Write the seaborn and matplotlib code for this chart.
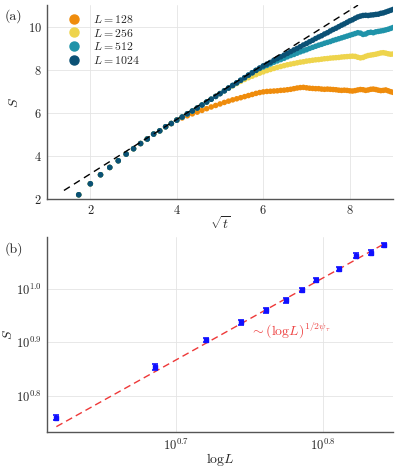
import numpy as np
import pandas as pd
import seaborn as sns
import matplotlib.pyplot as plt

# ---- panel (a): S vs sqrt(t) for several system sizes ----
t = np.arange(3, 82)

S_128 = [2.19, 2.70, 3.12, 3.46, 3.77, 4.08, 4.33, 4.57, 4.78, 5.01, 5.16, 5.35, 5.50, 5.66,
         5.76, 5.86, 5.95, 6.03, 6.11, 6.19, 6.27, 6.34, 6.41, 6.48, 6.54, 6.60, 6.65, 6.70,
         6.75, 6.80, 6.85, 6.90, 6.94, 6.97, 6.99, 7.00, 7.01, 7.02, 7.04, 7.05, 7.07, 7.09,
         7.12, 7.15, 7.17, 7.18, 7.16, 7.14, 7.13, 7.12, 7.12, 7.10, 7.09, 7.10, 7.09, 7.08,
         7.07, 7.05, 7.04, 7.05, 7.04, 7.02, 7.01, 7.03, 7.06, 7.08, 7.07, 7.04, 7.06, 7.09,
         7.10, 7.08, 7.05, 7.03, 7.04, 7.06, 7.02, 6.98, 6.95]
S_256 = [2.19, 2.70, 3.12, 3.46, 3.77, 4.08, 4.33, 4.57, 4.78, 5.01, 5.16, 5.35, 5.50, 5.66,
         5.80, 5.95, 6.08, 6.22, 6.36, 6.50, 6.63, 6.76, 6.89, 7.02, 7.14,
         7.25, 7.36, 7.46, 7.55, 7.63, 7.70, 7.77, 7.84, 7.90, 7.96, 8.01, 8.06, 8.11, 8.15,
         8.19, 8.23, 8.26, 8.29, 8.32, 8.35, 8.37, 8.40, 8.42, 8.44, 8.46, 8.47, 8.49, 8.51,
         8.52, 8.54, 8.55, 8.56, 8.57, 8.59, 8.60, 8.61, 8.62, 8.63, 8.62, 8.58, 8.55, 8.57,
         8.62, 8.66, 8.68, 8.70, 8.72, 8.75, 8.78, 8.79, 8.77, 8.74, 8.72, 8.73]
S_512 = [2.19, 2.70, 3.12, 3.46, 3.77, 4.08, 4.33, 4.57, 4.78, 5.01, 5.16, 5.35, 5.50, 5.66,
         5.80, 5.95, 6.08, 6.22, 6.36, 6.50, 6.63, 6.76, 6.89, 7.02, 7.15, 7.27, 7.39, 7.51,
         7.63, 7.75, 7.86,
         7.97, 8.06, 8.13, 8.20, 8.27, 8.35, 8.41, 8.47, 8.53, 8.60, 8.66, 8.71, 8.77, 8.83,
         8.88, 8.93, 8.99, 9.04, 9.09, 9.14, 9.18, 9.23, 9.27, 9.31, 9.36, 9.40, 9.44, 9.48,
         9.52, 9.56, 9.60, 9.64, 9.68, 9.72, 9.70, 9.64, 9.66, 9.72, 9.74, 9.72, 9.76, 9.78,
         9.80, 9.82, 9.85, 9.88, 9.92, 9.96]
S_1024 = [2.19, 2.70, 3.12, 3.46, 3.77, 4.08, 4.33, 4.57, 4.78, 5.01, 5.16, 5.35, 5.50, 5.66,
          5.80, 5.95, 6.08, 6.22, 6.36, 6.50, 6.63, 6.76, 6.89, 7.02, 7.15, 7.27, 7.39, 7.51,
          7.63, 7.75, 7.86, 7.97, 8.08, 8.18,
          8.26, 8.34, 8.44, 8.52, 8.60, 8.68, 8.76, 8.84, 8.92, 8.99, 9.07, 9.15, 9.22, 9.30,
          9.37, 9.45, 9.52, 9.58, 9.66, 9.72, 9.80, 9.87, 9.93, 10.00, 10.07, 10.13, 10.20,
          10.27, 10.32, 10.39, 10.45, 10.49, 10.52, 10.53, 10.52, 10.54, 10.55, 10.57, 10.58,
          10.62, 10.64, 10.68, 10.72, 10.76, 10.80]

sizes = [128, 256, 512, 1024]
colors = ["#ef8c0c", "#eed44c", "#1f93a9", "#0b5175"]

guide_x = [1.39, 8.19]
guide_y = [2.39, 11.0]

# ---- panel (b): S vs log L ----
L_b = [64, 128, 192, 256, 320, 384, 448, 512, 640, 768, 896, 1024]
S_b = [5.74, 7.14, 8.03, 8.66, 9.12, 9.52, 9.96, 10.40, 10.92, 11.55, 11.71, 12.09]
S_err = [0.07, 0.08, 0.08, 0.08, 0.09, 0.10, 0.09, 0.08, 0.10, 0.12, 0.12, 0.10]

fit_x = [4.16, 6.96]
fit_y = [5.52, 12.22]

sns.set_style("white")
plt.rcParams["mathtext.fontset"] = "cm"
plt.rcParams["font.family"] = ["cmr10", "DejaVu Serif"]
plt.rcParams["axes.unicode_minus"] = False

df = pd.concat([pd.DataFrame({"sqrt_t": np.sqrt(t), "S": s, "L": L})
                for L, s in zip(sizes, [S_128, S_256, S_512, S_1024])])

fig = plt.figure(figsize=(3.99, 4.69), dpi=100)
ax1 = fig.add_axes([0.118, 0.576, 0.867, 0.413])
ax2 = fig.add_axes([0.118, 0.079, 0.867, 0.416])

sns.scatterplot(data=df, x="sqrt_t", y="S", hue="L", palette=colors,
                s=16, linewidth=0, ax=ax1, legend=False, zorder=3)
sns.lineplot(x=guide_x, y=guide_y, color="black", linestyle=(0, (5, 3.5)),
             linewidth=1.0, ax=ax1, zorder=4)

for L, c in zip(sizes, colors):
    ax1.plot([], [], "o", color=c, markersize=6.5, label=f"$L = {L}$")
ax1.legend(loc="upper left", bbox_to_anchor=(0.03, 0.985), frameon=False,
           fontsize=8.5, handletextpad=0.6, labelspacing=0.15, borderaxespad=0)

ax1.set_xlim(1, 9)
ax1.set_ylim(2, 11)
ax1.set_xticks([2, 4, 6, 8], labels=["$2$", "$4$", "$6$", "$8$"])
ax1.set_yticks([2, 4, 6, 8, 10], labels=["$2$", "$4$", "$6$", "$8$", "$10$"])
ax1.set_xlabel(r"$\sqrt{t}$", fontsize=10)
ax1.set_ylabel("$S$", fontsize=10)
ax1.xaxis.set_label_coords(0.5, -0.085)
ax1.yaxis.set_label_coords(-0.075, 0.5)

# panel (b)
ax2.set_xscale("log")
ax2.set_yscale("log")
ax2.errorbar(np.log(L_b), S_b, yerr=S_err, fmt="s", color="#1010ff", markersize=2.5,
             capsize=2.2, elinewidth=1.4, capthick=1.2, zorder=3)
sns.lineplot(x=fit_x, y=fit_y, color="#ee3838", linestyle=(0, (5, 3)),
             linewidth=1.0, ax=ax2, zorder=2)
ax2.text(5.63, 8.21, r"$\sim(\mathrm{log}L)^{1/2\psi_\tau}$", color="#ee4444",
         fontsize=10, ha="left", va="baseline")

ax2.set_xlim(10 ** 0.6128, 10 ** 0.8472)
ax2.set_ylim(10 ** 0.732, 10 ** 1.098)
ax2.set_xticks([10 ** 0.7, 10 ** 0.8], labels=["$10^{0.7}$", "$10^{0.8}$"])
ax2.set_yticks([10 ** 0.8, 10 ** 0.9, 10 ** 1.0],
               labels=["$10^{0.8}$", "$10^{0.9}$", "$10^{1.0}$"])
ax2.minorticks_off()
ax2.set_xlabel(r"$\mathrm{log}L$", fontsize=10)
ax2.set_ylabel("$S$", fontsize=10)
ax2.xaxis.set_label_coords(0.5, -0.1)
ax2.yaxis.set_label_coords(-0.093, 0.5)

for ax in (ax1, ax2):
    ax.grid(True, color="#e4e4e4", linewidth=0.6)
    ax.set_axisbelow(True)
    sns.despine(ax=ax)
    for side in ("left", "bottom"):
        ax.spines[side].set_color("#555555")
        ax.spines[side].set_linewidth(1.0)
    ax.tick_params(direction="in", length=2.5, width=0.6, color="#555555",
                   labelsize=9, pad=4)

fig.text(0.012, 0.966, "(a)", fontsize=10, va="center")
fig.text(0.012, 0.469, "(b)", fontsize=10, va="center")

fig.savefig("out.png", dpi=100)
